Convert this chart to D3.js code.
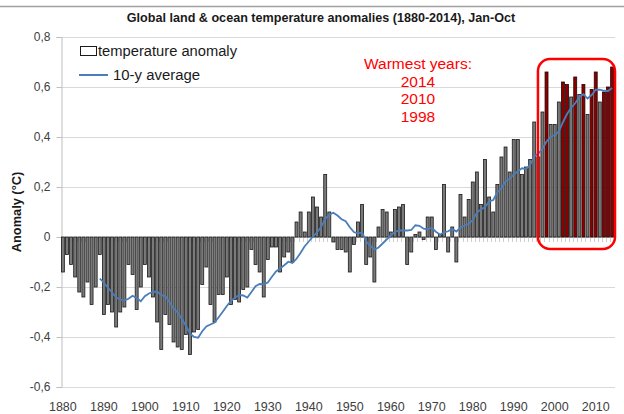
<!DOCTYPE html>
<html>
<head>
<meta charset="utf-8">
<script src="https://cdn.jsdelivr.net/npm/d3@7"></script>
<style>
  html, body { margin: 0; padding: 0; background: #fff; }
  svg { display: block; font-family: "Liberation Sans", Arial, sans-serif; }
</style>
</head>
<body>
<svg id="chart" width="624" height="414"></svg>
<script>
const title = "Global land & ocean temperature anomalies (1880-2014), Jan-Oct";
const yAxisTitle = "Anomaly (°C)";
const legendLabels = ["temperature anomaly", "10-y average"];
const noteLines = ["Warmest years:", "2014", "2010", "1998"];

const years = d3.range(1880, 2015);
const anomalies = [
  -0.14, -0.07, -0.11, -0.16, -0.22, -0.24, -0.18, -0.27, -0.20, -0.07,
  -0.31, -0.27, -0.30, -0.36, -0.30, -0.28, -0.11, -0.15, -0.29, -0.20,
  -0.11, -0.16, -0.24, -0.34, -0.45, -0.31, -0.35, -0.42, -0.44, -0.45,
  -0.39, -0.47, -0.38, -0.37, -0.19, -0.12, -0.27, -0.34, -0.23, -0.23,
  -0.16, -0.27, -0.25, -0.26, -0.21, -0.20, -0.05, -0.11, -0.14, -0.24,
  -0.09, -0.04, -0.04, -0.14, -0.08, -0.06, -0.10, 0.06, 0.10, 0.02,
  0.10, 0.16, 0.12, 0.08, 0.25, 0.10, -0.02, -0.05, -0.05, -0.06,
  -0.14, -0.03, 0.06, 0.13, -0.11, -0.08, -0.18, 0.04, 0.11, 0.10,
  0.02, 0.11, 0.12, 0.13, -0.11, -0.06, 0.01, 0.02, -0.01, 0.08,
  0.08, -0.05, 0.01, 0.21, -0.06, 0.04, -0.10, 0.17, 0.08, 0.15,
  0.22, 0.26, 0.13, 0.31, 0.16, 0.10, 0.21, 0.32, 0.36, 0.26,
  0.39, 0.39, 0.25, 0.28, 0.31, 0.46, 0.32, 0.50, 0.66, 0.45,
  0.45, 0.54, 0.62, 0.61, 0.56, 0.64, 0.57, 0.61, 0.49, 0.59,
  0.66, 0.54, 0.58, 0.60, 0.68
];
// 10-year average line, 1889-2014
const avgYears = d3.range(1889, 2015);
const avgValues = [
  -0.166,
  -0.183, -0.203, -0.222, -0.242, -0.250, -0.254, -0.247, -0.235, -0.244, -0.257,
  -0.237, -0.226, -0.220, -0.218, -0.233, -0.236, -0.260, -0.287, -0.302, -0.327,
  -0.355, -0.386, -0.400, -0.403, -0.377, -0.358, -0.350, -0.342, -0.321, -0.299,
  -0.276, -0.256, -0.243, -0.232, -0.234, -0.242, -0.220, -0.197, -0.188, -0.189,
  -0.182, -0.159, -0.138, -0.126, -0.113, -0.099, -0.104, -0.087, -0.063, -0.037,
  -0.018, 0.002, 0.018, 0.040, 0.073, 0.089, 0.097, 0.086, 0.071, 0.063,
  0.039, 0.020, 0.014, 0.019, -0.017, -0.035, -0.051, -0.042, -0.026, -0.010,
  0.006, 0.020, 0.026, 0.026, 0.026, 0.028, 0.047, 0.045, 0.033, 0.031,
  0.037, 0.021, 0.010, 0.018, 0.023, 0.033, 0.022, 0.037, 0.046, 0.053,
  0.067, 0.098, 0.110, 0.120, 0.142, 0.148, 0.179, 0.194, 0.222, 0.233,
  0.250, 0.263, 0.275, 0.272, 0.287, 0.323, 0.334, 0.352, 0.382, 0.401,
  0.407, 0.422, 0.459, 0.492, 0.517, 0.535, 0.560, 0.571, 0.554, 0.568,
  0.589, 0.589, 0.585, 0.584, 0.596
];
const warmestYears = [1998, 2002, 2003, 2005, 2007, 2009, 2010, 2012, 2013, 2014];
const yTicks = [0.8, 0.6, 0.4, 0.2, 0, -0.2, -0.4, -0.6];
const yTickLabels = ["0,8", "0,6", "0,4", "0,2", "0", "-0,2", "-0,4", "-0,6"];
const xLabelYears = d3.range(1880, 2011, 10);

const svg = d3.select("#chart");
const W = 624, H = 414;
const plot = { left: 61, right: 614, top: 37, bottom: 387 };

const x = d3.scaleBand().domain(years).range([plot.left, plot.right]).paddingInner(0.28).paddingOuter(0.1);
const y = d3.scaleLinear().domain([-0.6, 0.8]).range([plot.bottom, plot.top]);

// top frame line
svg.append("line").attr("x1", 0).attr("x2", W).attr("y1", 6.5).attr("y2", 6.5)
  .attr("stroke", "#a0a0a0").attr("stroke-width", 1.5);

// title
svg.append("text").attr("x", 321).attr("y", 22).attr("text-anchor", "middle")
  .attr("font-size", 12.6).attr("font-weight", "bold").attr("fill", "#1a1a1a").text(title);

// gridlines
svg.append("g").selectAll("line").data(yTicks).join("line")
  .attr("x1", plot.left).attr("x2", plot.right + 1)
  .attr("y1", d => Math.round(y(d)) + 0.5).attr("y2", d => Math.round(y(d)) + 0.5)
  .attr("stroke", "#d9d9d9").attr("stroke-width", 1);

// y axis
const yAxis = d3.axisLeft(y).tickValues(yTicks).tickSize(5).tickPadding(6)
  .tickFormat((d, i) => yTickLabels[i]);
const gy = svg.append("g").attr("transform", `translate(${plot.left + 0.5},0)`).call(yAxis);
gy.select(".domain").attr("stroke", "#bfbfbf");
gy.selectAll(".tick line").attr("stroke", "#bfbfbf");
gy.selectAll(".tick text").attr("font-size", 12).attr("fill", "#404040")
  .attr("font-family", "Liberation Sans, Arial, sans-serif");

// y axis title
svg.append("text").attr("transform", `translate(21,212) rotate(-90)`)
  .attr("text-anchor", "middle").attr("font-size", 12.8).attr("font-weight", "bold")
  .attr("fill", "#1a1a1a").text(yAxisTitle);

// category axis at zero
const step = x.step();
svg.append("line").attr("x1", plot.left).attr("x2", plot.right)
  .attr("y1", Math.round(y(0)) + 0.5).attr("y2", Math.round(y(0)) + 0.5)
  .attr("stroke", "#bfbfbf");
svg.append("g").selectAll("line").data(years).join("line")
  .attr("x1", d => Math.round(x(d) - step * 0.14) + 0.5)
  .attr("x2", d => Math.round(x(d) - step * 0.14) + 0.5)
  .attr("y1", Math.round(y(0))).attr("y2", Math.round(y(0)) + 5)
  .attr("stroke", "#cfcfcf");

// x labels
svg.append("g").selectAll("text").data(xLabelYears).join("text")
  .attr("x", d => x(d) + x.bandwidth() / 2).attr("y", 411)
  .attr("text-anchor", "middle").attr("font-size", 12.5).attr("fill", "#404040")
  .text(d => d);

// bars
const data = years.map((yr, i) => ({ year: yr, value: anomalies[i] }));
svg.append("g").selectAll("rect").data(data).join("rect")
  .attr("x", d => x(d.year))
  .attr("width", x.bandwidth())
  .attr("y", d => y(Math.max(0, d.value)))
  .attr("height", d => Math.abs(y(d.value) - y(0)))
  .attr("fill", d => warmestYears.includes(d.year) ? "#8a0000" : "#7a7a7a")
  .attr("stroke", d => warmestYears.includes(d.year) ? "#2a0000" : "#1a1a1a")
  .attr("stroke-width", 0.8);

// 10-y average line
const line = d3.line()
  .x(d => x(d[0]) + x.bandwidth() / 2)
  .y(d => y(d[1]));
svg.append("path").datum(avgYears.map((yr, i) => [yr, avgValues[i]]))
  .attr("d", line).attr("fill", "none").attr("stroke", "#4a7ebb").attr("stroke-width", 1.8);

// legend
svg.append("rect").attr("x", 80.5).attr("y", 46.5).attr("width", 16).attr("height", 9)
  .attr("fill", "#fff").attr("stroke", "#1a1a1a").attr("stroke-width", 1);
svg.append("text").attr("x", 98).attr("y", 56).attr("font-size", 14).attr("fill", "#1a1a1a")
  .attr("textLength", 139).attr("lengthAdjust", "spacingAndGlyphs")
  .text(legendLabels[0]);
svg.append("line").attr("x1", 79).attr("x2", 108).attr("y1", 75).attr("y2", 75)
  .attr("stroke", "#4a7ebb").attr("stroke-width", 2);
svg.append("text").attr("x", 113).attr("y", 80).attr("font-size", 14).attr("fill", "#1a1a1a")
  .attr("textLength", 87).attr("lengthAdjust", "spacingAndGlyphs")
  .text(legendLabels[1]);

// warmest years note
svg.append("g").selectAll("text").data(noteLines).join("text")
  .attr("x", 418).attr("y", (d, i) => 69 + i * 17.5)
  .attr("text-anchor", "middle").attr("font-size", 15.5).attr("fill", "#ff0000")
  .text(d => d);

// highlight box
const boxX0 = x(1997) - 3, boxX1 = plot.right + 1;
svg.append("rect").attr("x", boxX0).attr("y", 59).attr("width", boxX1 - boxX0).attr("height", 190)
  .attr("rx", 12).attr("ry", 12).attr("fill", "none").attr("stroke", "#ff0000").attr("stroke-width", 2.5);
</script>
</body>
</html>
